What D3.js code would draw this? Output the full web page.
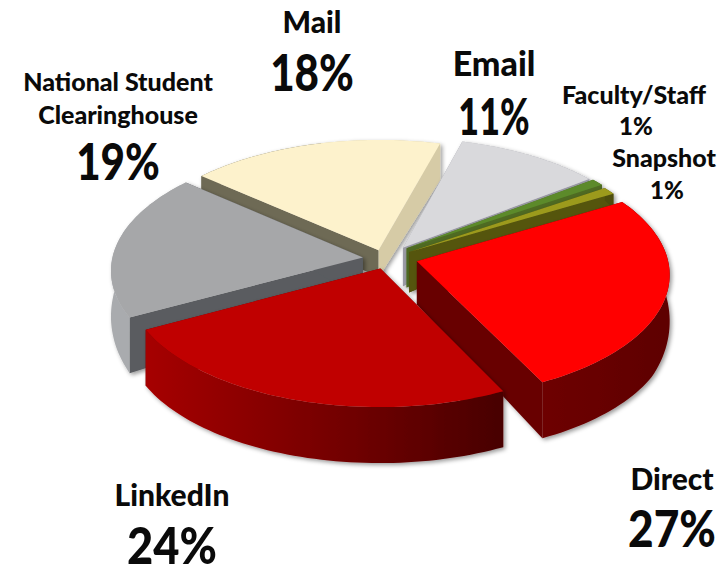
<!DOCTYPE html>
<html>
<head>
<meta charset="utf-8">
<script src="https://cdn.jsdelivr.net/npm/d3@7/dist/d3.min.js"></script>
<style>
  html, body { margin: 0; padding: 0; background: #fff; }
  text { font-family: Lato, "Open Sans", sans-serif; font-weight: 900; fill: #0a0a0a; text-anchor: middle; }
</style>
</head>
<body>
<svg id="chart" width="718" height="569"></svg>
<script>
// values
const categories = ['Email', 'Faculty/Staff', 'Snapshot', 'Direct', 'LinkedIn', 'National Student Clearinghouse', 'Mail'];
const shares = [11, 1, 1, 27, 24, 19, 18];

// look of each slice, same order as categories
const topColors = ['#d9d9dc', '#5b8a2c', '#9c9a1e', '#ff0000', '#c00000', '#a6a7a9', '#fdf2cc'];
const wallLeft = ['#b4b4ba', '#4f6b22', '#4e4e10', '#6e0000', '#a60000', '#a9abae', '#6e6a55'];
const wallRight = ['#9a9aa6', '#4f6b22', '#4e4e10', '#5e0000', '#480000', '#a9abae', '#d6cba6'];
// where the wall gradient starts and stops, Mail changes colour under its top face
const wallFrom = [0, 0, 0, 0, 0, 0, 0.5];
const wallTo = [1, 1, 1, 1, 1, 1, 0.5];
const sideColors = ['#9b9ba6', '#4f6b22', '#4e4e10', '#6b0000', '#6b0000', '#5a5c60', '#6e6a55'];
const endColors = ['#9b9ba6', '#4f6b22', '#54540f', '#680000', '#6b0000', '#5a5c60', '#d6cba6'];
// how far each slice is pulled out, in pie radii (right, back)
const pullU = [0.06, 0.075, 0.085, 0.115, -0.03, -0.10, -0.038];
const pullV = [0.06, 0.055, 0.025, -0.05, -0.11, -0.02, 0.04];
// draw order, back to front
const drawOrder = [6, 0, 1, 2, 5, 3, 4];

const CX = 388, CY = 255, RX = 250, RY = 122, PERSP = 0.0986;
const degToRad = Math.PI / 180;

const svg = d3.select('#chart');

const pie = d3.pie().sort(null).value(d => d)
  .startAngle(15.5 * degToRad)
  .endAngle((360 + 15.5) * degToRad);
const arcs = pie(shares);

// the 3d view squeezes the angles a bit on the right hand side
const viewAngle = d3.scaleLinear()
  .domain([15.5, 61.6, 158, 243, 375.5].map(a => a * degToRad))
  .range([15.5, 59.5, 153.5, 241.5, 375.5].map(a => a * degToRad));

// ground plane to screen, with a little perspective
const xScale = d3.scaleLinear().domain([-1, 1]).range([CX - RX, CX + RX]);
const yScale = d3.scaleLinear().domain([-1, 1]).range([CY + RY, CY - RY]);
const project = (u, v) => {
  const w = 1 + PERSP * v;
  return [xScale(u / w), yScale(v / w)];
};

// the extrusion gets thin towards the back of the pie
const wallHeight = d3.scaleLinear().domain([-1, -0.5, 0, 0.45, 0.7, 1.1]).range([56, 56, 42, 18, 8, 6]);
const mailWall = d3.scaleLinear().domain([-0.8, 0, 0.3]).range([15, 28, 39]);

const bottomOf = (i, u, v) => {
  const p = project(u, v);
  const h = categories[i] === 'Mail' ? mailWall(u) : wallHeight(v);
  return [p[0], p[1] + h];
};

const line = d3.line();

const defs = svg.append('defs');
const shadow = defs.append('filter').attr('id', 'soft')
  .attr('x', '-10%').attr('y', '-10%').attr('width', '120%').attr('height', '125%');
shadow.append('feDropShadow').attr('dx', 2).attr('dy', 2).attr('stdDeviation', 2)
  .attr('flood-color', '#000').attr('flood-opacity', 0.4);

categories.forEach((c, i) => {
  const g = defs.append('linearGradient').attr('id', 'wall' + i);
  g.append('stop').attr('offset', wallFrom[i]).attr('stop-color', wallLeft[i]);
  g.append('stop').attr('offset', wallTo[i]).attr('stop-color', wallRight[i]);
});

const slices = svg.append('g').selectAll('g')
  .data(drawOrder)
  .join('g')
  .attr('filter', 'url(#soft)');

slices.each(function (i) {
  const d = arcs[i];
  const g = d3.select(this);
  const u0 = pullU[i], v0 = pullV[i];
  const angles = d3.range(0, 61).map(k => viewAngle(d.startAngle + (d.endAngle - d.startAngle) * k / 60));
  const rim = angles.map(a => [u0 + Math.sin(a), v0 + Math.cos(a)]);
  const first = rim[0], last = rim[rim.length - 1];

  // flat sides first
  g.append('path')
    .attr('d', line([project(u0, v0), project(first[0], first[1]), bottomOf(i, first[0], first[1]), bottomOf(i, u0, v0)]) + 'Z')
    .attr('fill', sideColors[i]);
  g.append('path')
    .attr('d', line([project(u0, v0), project(last[0], last[1]), bottomOf(i, last[0], last[1]), bottomOf(i, u0, v0)]) + 'Z')
    .attr('fill', endColors[i]);

  // round outer wall
  const rimTop = rim.map(p => project(p[0], p[1]));
  const rimBottom = rim.map(p => bottomOf(i, p[0], p[1])).reverse();
  g.append('path')
    .attr('d', line(rimTop.concat(rimBottom)) + 'Z')
    .attr('fill', 'url(#wall' + i + ')');

  // top face
  g.append('path')
    .attr('d', line([project(u0, v0)].concat(rimTop)) + 'Z')
    .attr('fill', topColors[i]);
});

// labels are placed by hand like in the original slide, sx squeezes the wide percent figures
const labels = [
  { t: 'Mail', x: 312, y: 33, s: 30 },
  { t: '18%', x: 312, y: 91, s: 52, sx: 0.81 },
  { t: 'Email', x: 494, y: 76, s: 34 },
  { t: '11%', x: 494, y: 135, s: 52, sx: 0.69 },
  { t: 'National Student', x: 118, y: 91, s: 25 },
  { t: 'Clearinghouse', x: 118, y: 124, s: 25 },
  { t: '19%', x: 118, y: 180, s: 52, sx: 0.81 },
  { t: 'Faculty/Staff', x: 634, y: 104, s: 25 },
  { t: '1%', x: 636, y: 135, s: 24 },
  { t: 'Snapshot', x: 664, y: 167, s: 25 },
  { t: '1%', x: 667, y: 199, s: 24 },
  { t: 'LinkedIn', x: 172, y: 506, s: 30 },
  { t: '24%', x: 172, y: 564, s: 52, sx: 0.87 },
  { t: 'Direct', x: 672, y: 490, s: 30 },
  { t: '27%', x: 672, y: 547, s: 52, sx: 0.85 }
];

svg.append('g').selectAll('text')
  .data(labels)
  .join('text')
  .attr('transform', d => 'translate(' + d.x + ',' + d.y + ') scale(' + (d.sx || 1) + ',1)')
  .style('font-size', d => d.s + 'px')
  .text(d => d.t);
</script>
</body>
</html>
